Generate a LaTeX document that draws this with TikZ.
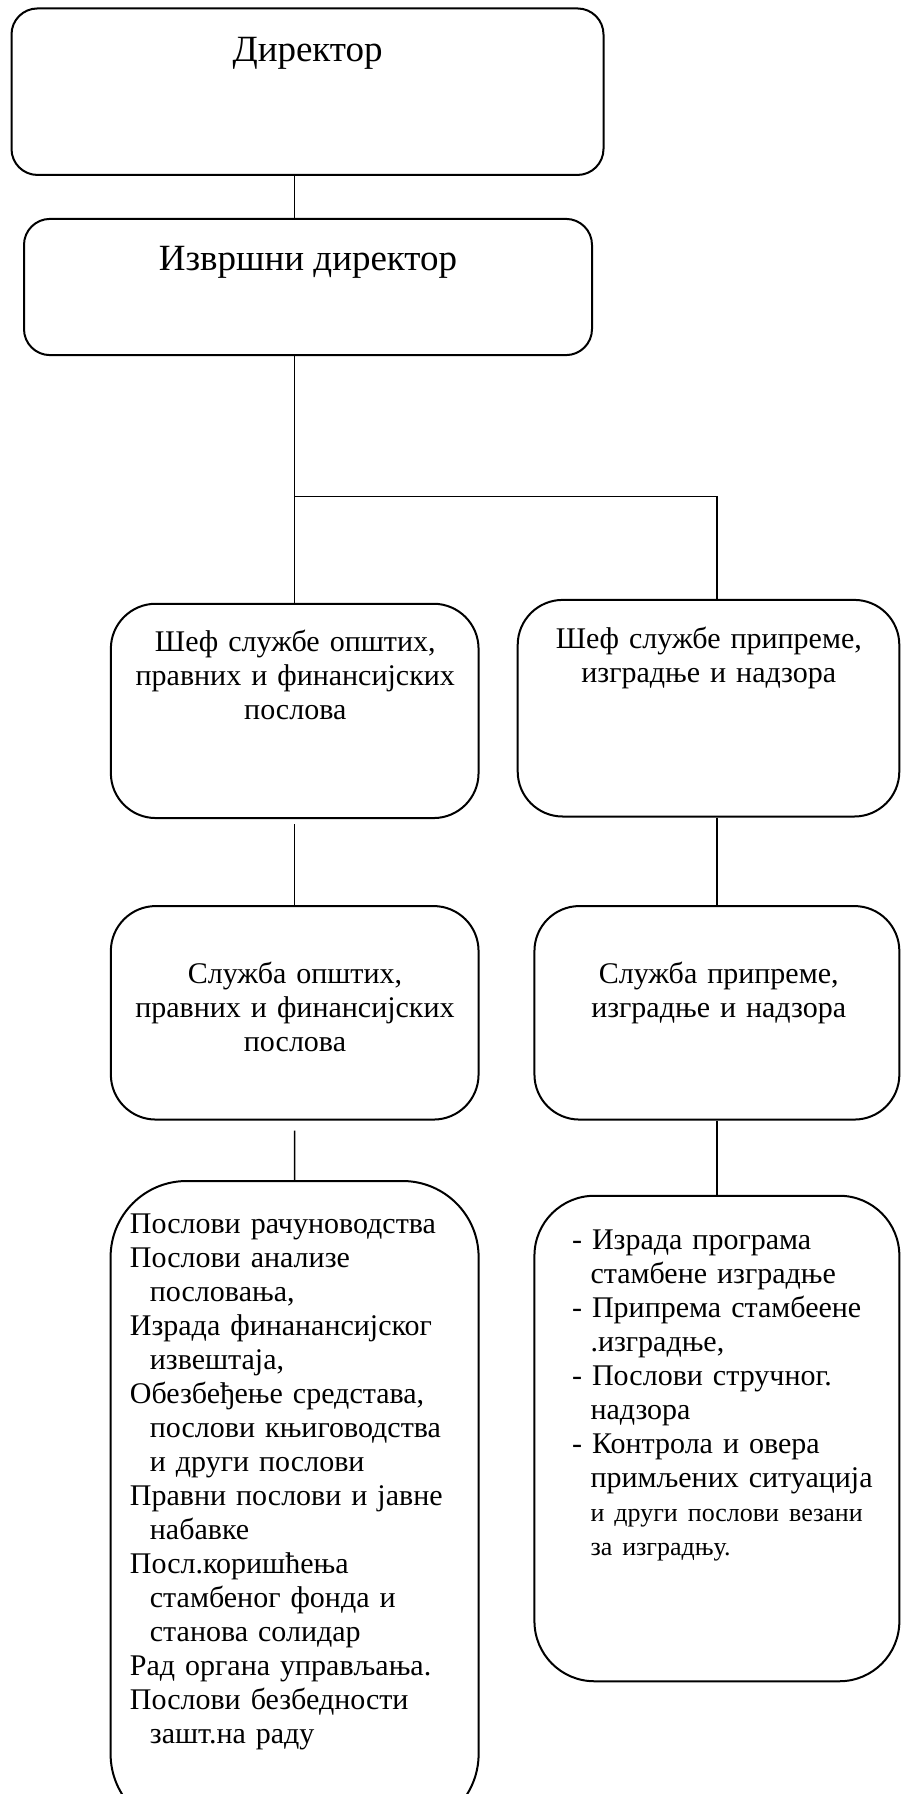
\documentclass[tikz,border=0pt]{standalone}
\usepackage{fontspec}
\setmainfont{Liberation Serif}
\usetikzlibrary{positioning}

\newcommand{\titlefont}{\fontsize{18.5pt}{21pt}\selectfont}
\newcommand{\bodyfont}{\fontsize{15pt}{17pt}\selectfont}
\newcommand{\smallbody}{\fontsize{13pt}{17pt}\selectfont}

\begin{document}
\begin{tikzpicture}[x=5pt,y=5pt,
    box/.style={draw=black, line width=1pt, rounded corners=#1},
    link/.style={draw=black, line width=0.75pt},
    lbl/.style={font=\bodyfont, anchor=base}]
\tikzstyle{every node}+=[inner sep=0pt]
\useasboundingbox (0,0) rectangle (90.1,-179.4);
\clip (0,0) rectangle (90.1,-179.4);
% boxes
\node [box=13pt, minimum width=296pt, minimum height=83.25pt] (dir) at (30.75,-9.17) {};
\node [box=13pt, minimum width=284pt, minimum height=68.1pt] (exec) at (30.8,-28.7) {};
\node [box=22.5pt, minimum width=183.85pt, minimum height=107.15pt] (chefL) at (29.47,-71.09) {};
\node [box=22.5pt, minimum width=190.8pt, minimum height=108.3pt] (chefR) at (70.85,-70.82) {};
\node [box=22.5pt, minimum width=183.85pt, minimum height=106.75pt] (servL) at (29.47,-101.28) {};
\node [box=22.5pt, minimum width=182.45pt, minimum height=106.75pt] (servR) at (71.69,-101.28) {};
\node [box=38pt, minimum width=184pt, minimum height=324.5pt] (tasksL) at (29.46,-150.55) {};
\node [box=30pt, minimum width=182.45pt, minimum height=242.75pt] (tasksR) at (71.69,-143.85) {};
% texts
\node [lbl, font=\titlefont] (dirT) at (30.76,-6.15) {Директор};
\node [lbl, font=\titlefont] (execT) at (30.8,-27.0) {Извршни директор};
\node [lbl, text width=190pt, align=center] (chefLT) at (29.53,-65.1)
  {Шеф службе општих,\\ правних и финансијских\\ послова};
\node [lbl, text width=190pt, align=center] (chefRT) at (70.88,-64.89)
  {Шеф службе припреме,\\ изградње и надзора};
\node [lbl, text width=190pt, align=center] (servLT) at (29.5,-98.37)
  {Служба општих,\\ правних и финансијских\\ послова};
\node [lbl, text width=190pt, align=center] (servRT) at (71.87,-98.37)
  {Служба припреме,\\ изградње и надзора};
\node [lbl, anchor=base west, text width=175pt, align=left] (tasksLT) at (12.95,-123.3)
  {Послови рачуноводства\\
   Послови анализе\\
   \hspace*{10pt}пословања,\\
   Израда финанансијског\\
   \hspace*{10pt}извештаја,\\
   Обезбеђење средстава,\\
   \hspace*{10pt}послови књиговодства\\
   \hspace*{10pt}и други послови\\
   Правни послови и јавне\\
   \hspace*{10pt}набавке\\
   Посл.коришћења\\
   \hspace*{10pt}стамбеног фонда и\\
   \hspace*{10pt}станова солидар\\
   Рад органа управљања.\\
   Послови безбедности\\
   \hspace*{10pt}зашт.на раду};
\node [lbl, anchor=base west, text width=160pt, align=left] (tasksRT) at (57.17,-124.9)
  {- Израда програма\\
   \hspace*{9.2pt}стамбене изградње\\
   - Припрема стамбеене\\
   \hspace*{9.2pt}.изградње,\\
   - Послови стручног.\\
   \hspace*{9.2pt}надзора\\
   - Контрола и овера\\
   \hspace*{9.2pt}примљених ситуација\\
   {\smallbody\hspace*{9.2pt}и други послови везани}\\
   {\smallbody\hspace*{9.2pt}за изградњу.}};
% connectors
\coordinate (fork) at (29.47,-49.63);
\draw [link] (dir.south -| chefL) -- (exec.north -| chefL);
\draw [link] (exec.south -| chefL) -- (fork) -- (chefL.north);
\draw [link] (fork) -| (chefR.north -| servR);
\draw [link, shorten <=2.5pt] (chefL.south) -- (servL.north);
\draw [link] (chefR.south -| servR) -- (servR.north);
\draw [link, shorten <=5pt] (servL.south) -- (tasksL.north);
\draw [link] (servR.south) -- (tasksR.north);
\end{tikzpicture}
\end{document}
